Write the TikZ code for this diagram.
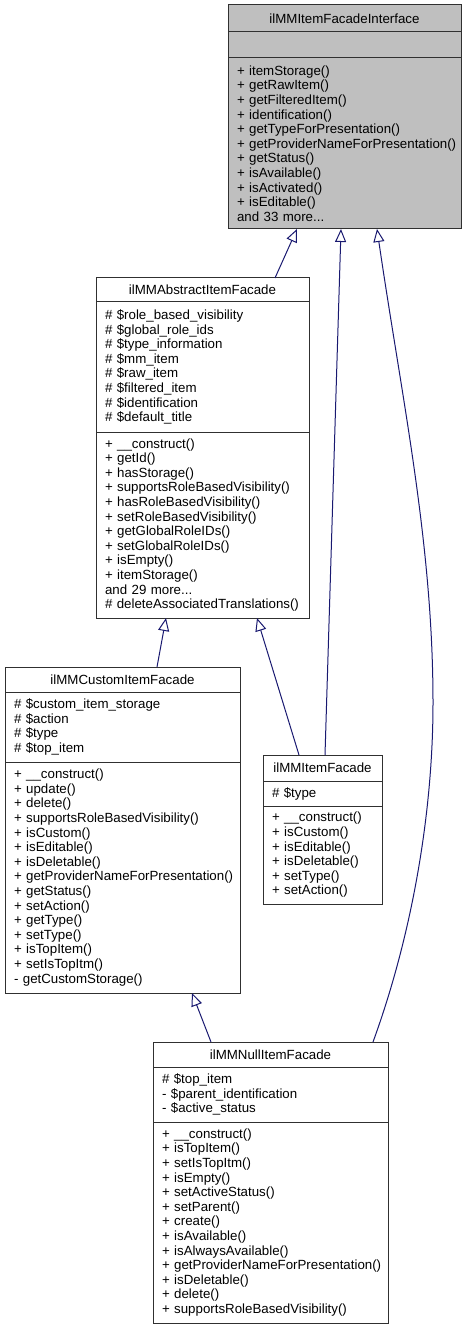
\documentclass[tikz,border=0pt]{standalone}
\usepackage{fontspec}
\setmainfont{Liberation Sans}
\usetikzlibrary{arrows.meta,positioning}
\definecolor{boxline}{RGB}{48,48,48}
\definecolor{ifacegray}{RGB}{191,191,191}
\definecolor{edgeblue}{RGB}{25,25,112}
\newcommand\classfont{\fontsize{13.3pt}{14.6pt}\selectfont\hyphenpenalty=10000\exhyphenpenalty=10000}
\tikzset{classtitle/.style = {draw=boxline,line width=1pt,outer sep=0pt,inner xsep=9pt,inner ysep=0pt,align=center,text width=#1,font=\classfont,anchor=north west}}
\tikzset{members/.style = {draw=boxline,line width=1pt,outer sep=0pt,inner xsep=9pt,inner ysep=0pt,align=left,text width=#1,font=\classfont}}
\tikzset{edge/.style = {-{Triangle[open,length=13pt,width=11pt]},draw=edgeblue,line width=1pt}}

\begin{document}
\begin{tikzpicture}[x=1pt,y=-1pt]
\useasboundingbox (0,0) rectangle (468,1329);

\node[classtitle=215pt,fill=ifacegray,minimum height=27] (ifaceT) at (228,5) {ilMMItemFacadeInterface};
\node[members=215pt,fill=ifacegray,minimum height=26,below=0pt of ifaceT] (ifaceA) {};
\node[members=215pt,fill=ifacegray,minimum height=171,below=0pt of ifaceA] (ifaceM) {+~itemStorage()\\+~getRawItem()\\+~getFilteredItem()\\+~identification()\\+~getTypeForPresentation()\\+~getProviderNameForPresentation()\\+~getStatus()\\+~isAvailable()\\+~isActivated()\\+~isEditable()\\and~33~more...};

\node[classtitle=195pt,minimum height=24] (abstrT) at (96,278) {ilMMAbstractItemFacade};
\node[members=195pt,minimum height=130,below=0pt of abstrT] (abstrA) {\#~\$role\_based\_visibility\\\#~\$global\_role\_ids\\\#~\$type\_information\\\#~\$mm\_item\\\#~\$raw\_item\\\#~\$filtered\_item\\\#~\$identification\\\#~\$default\_title};
\node[members=195pt,minimum height=186,below=0pt of abstrA] (abstrM) {+~\_\_construct()\\+~getId()\\+~hasStorage()\\+~supportsRoleBasedVisibility()\\+~hasRoleBasedVisibility()\\+~setRoleBasedVisibility()\\+~getGlobalRoleIDs()\\+~setGlobalRoleIDs()\\+~isEmpty()\\+~itemStorage()\\and~29~more...\\\#~deleteAssociatedTranslations()};

\node[classtitle=217pt,minimum height=25] (customT) at (5,667) {ilMMCustomItemFacade};
\node[members=217pt,minimum height=70,below=0pt of customT] (customA) {\#~\$custom\_item\_storage\\\#~\$action\\\#~\$type\\\#~\$top\_item};
\node[members=217pt,minimum height=231,below=0pt of customA] (customM) {+~\_\_construct()\\+~update()\\+~delete()\\+~supportsRoleBasedVisibility()\\+~isCustom()\\+~isEditable()\\+~isDeletable()\\+~getProviderNameForPresentation()\\+~getStatus()\\+~setAction()\\+~getType()\\+~setType()\\+~isTopItem()\\+~setIsTopItm()\\-~getCustomStorage()};

\node[classtitle=101pt,minimum height=26] (itemT) at (263,755) {ilMMItemFacade};
\node[members=101pt,minimum height=25,below=0pt of itemT] (itemA) {\#~\$type};
\node[members=101pt,minimum height=98,below=0pt of itemA] (itemM) {+~\_\_construct()\\+~isCustom()\\+~isEditable()\\+~isDeletable()\\+~setType()\\+~setAction()};

\node[classtitle=217pt,minimum height=25] (nullT) at (153,1042) {ilMMNullItemFacade};
\node[members=217pt,minimum height=55,below=0pt of nullT] (nullA) {\#~\$top\_item\\-~\$parent\_identification\\-~\$active\_status};
\node[members=217pt,minimum height=201,below=0pt of nullA] (nullM) {+~\_\_construct()\\+~isTopItem()\\+~setIsTopItm()\\+~isEmpty()\\+~setActiveStatus()\\+~setParent()\\+~create()\\+~isAvailable()\\+~isAlwaysAvailable()\\+~getProviderNameForPresentation()\\+~isDeletable()\\+~delete()\\+~supportsRoleBasedVisibility()};

\coordinate (bend) at (433,703);

\draw[edge] ([xshift=72.5]abstrT.north) -- ([xshift=-47.5]ifaceM.south);
\draw[edge] ([xshift=34.5]customT.north) -- ([xshift=-36.5]abstrM.south);
\draw[edge] ([xshift=-23.5]itemT.north) -- ([xshift=54.5]abstrM.south);
\draw[edge] ([xshift=2.5]itemT.north) -- ([xshift=-3.5]ifaceM.south);
\draw[edge] ([xshift=-59.5]nullT.north) -- ([xshift=69.5]customM.south);
\draw[edge] ([xshift=102.5]nullT.north)
  .. controls (412,935) and (433,813) .. (bend)
  .. controls (433,543) and (402,400) .. ([xshift=32.5]ifaceM.south);

\end{tikzpicture}
\end{document}
